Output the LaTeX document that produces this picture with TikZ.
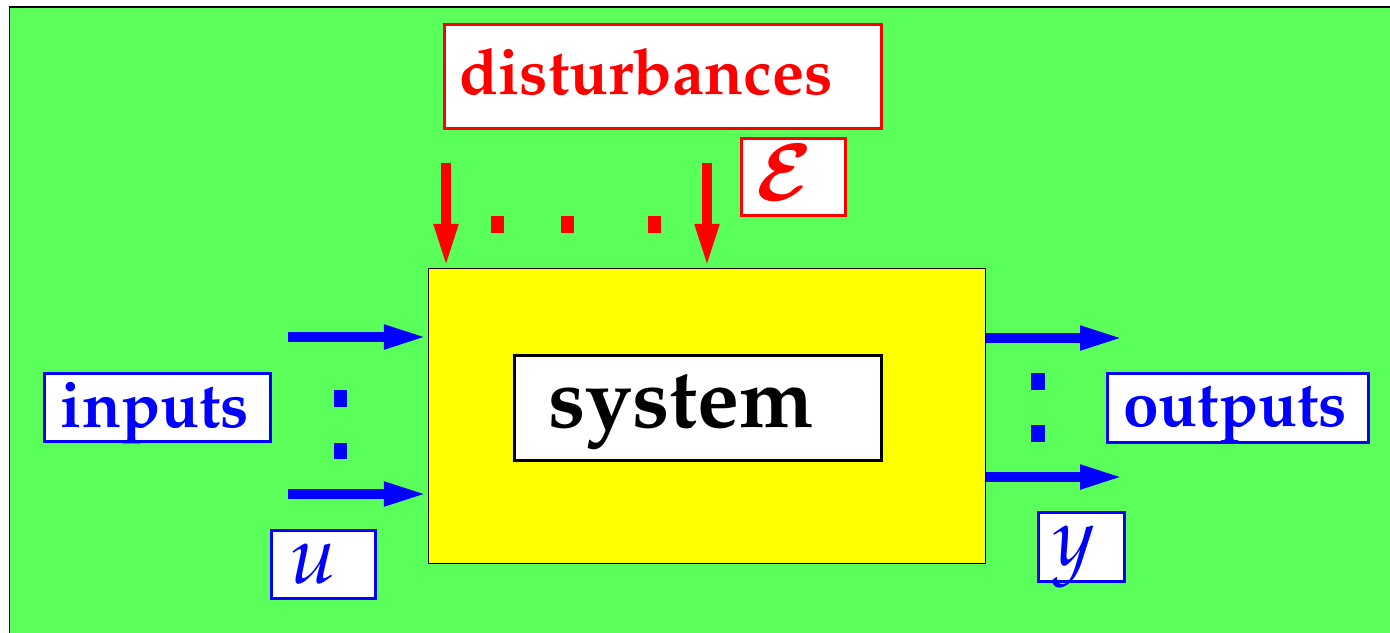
\documentclass[tikz,border=0pt]{standalone}
\usepackage[T1]{fontenc}
\usepackage{mathpazo}
\usetikzlibrary{arrows.meta,fit}
\definecolor{bggreen}{RGB}{90,255,90}
\definecolor{sysyellow}{RGB}{255,255,0}
\tikzset{
  framebox/.style={draw=#1, line width=1.5pt, fill=white, inner sep=0pt},
  lbl/.style={inner sep=0pt, anchor=base, font=\fontsize{32}{38}\selectfont\bfseries},
  mlbl/.style={inner sep=0pt, anchor=base, font=\fontsize{41}{48}\selectfont},
  bigarrow/.style={line width=5pt, -{Triangle[length=22pt,width=11pt]}},
  dotsq/.style={fill=#1, draw=none}
}
\begin{document}
\begin{tikzpicture}[x=0.5pt,y=-0.5pt]
\useasboundingbox (0,0) rectangle (1390,632);
\clip (0,0) rectangle (1390,632);
% background
\draw[fill=bggreen, line width=0.75pt] (9.5,7) rectangle (1400,650);
% main system box
\node[draw=black, line width=0.6pt, fill=sysyellow, inner sep=0pt, fit={(428.5,268.5)(985.5,563.5)}] (sys) {};
\node[framebox=black, fit={(514.5,355.5)(881.5,460.5)}] (sysin) {};
\node[lbl, text=black, font=\fontsize{42}{50}\selectfont\bfseries] (systxt) at (681,427) {system};
% disturbances
\node[framebox=red, fit={(444.5,24.5)(881.5,128.5)}] (dist) {};
\node[lbl, text=red] (disttxt) at (646,94) {disturbances};
\node[framebox=red, fit={(741.5,138.5)(845.5,215.5)}] (eps) {};
\node[inner sep=0pt, anchor=base, font=\fontsize{39}{46}\selectfont\boldmath, text=red] (epstxt) at (784,200) {$\mathcal{E}$};
% inputs
\node[framebox=blue, fit={(44.5,373.5)(270.5,441.5)}] (inp) {};
\node[lbl, text=blue] (inptxt) at (155,427) {inputs};
\node[framebox=blue, fit={(271.5,530.5)(375.5,598.5)}] (ubox) {};
\node[mlbl, text=blue] (utxt) at (313,583) {$u$};
% outputs
\node[framebox=blue, fit={(1107.5,373.5)(1368.5,442.5)}] (outp) {};
\node[lbl, text=blue] (outtxt) at (1235,426) {outputs};
\node[framebox=blue, fit={(1038.5,512.5)(1124.5,581.5)}] (ybox) {};
\node[mlbl, text=blue] (ytxt) at (1074,565) {$y$};
% disturbance arrows
\coordinate (d1) at (446,163);
\coordinate (d2) at (707,163);
\draw[bigarrow, red] (d1) -- (d1 |- sys.north);
\draw[bigarrow, red] (d2) -- (d2 |- sys.north);
\foreach \x in {497,567,654} \fill[dotsq=red] (\x-6.5,216) rectangle (\x+6.5,233);
% input arrows
\coordinate (i1) at (288,337);
\coordinate (i2) at (288,494);
\draw[bigarrow, blue] (i1) -- (i1 -| sys.west);
\draw[bigarrow, blue] (i2) -- (i2 -| sys.west);
\fill[dotsq=blue] (334,390) rectangle (347,407);
\fill[dotsq=blue] (334,443) rectangle (347,459);
% output arrows
\coordinate (o1) at (1124,338);
\coordinate (o2) at (1124,477);
\draw[bigarrow, blue] (o1 -| sys.east) -- (o1);
\draw[bigarrow, blue] (o2 -| sys.east) -- (o2);
\fill[dotsq=blue] (1031,373) rectangle (1045,390);
\fill[dotsq=blue] (1031,425) rectangle (1045,442);
\end{tikzpicture}
\end{document}
